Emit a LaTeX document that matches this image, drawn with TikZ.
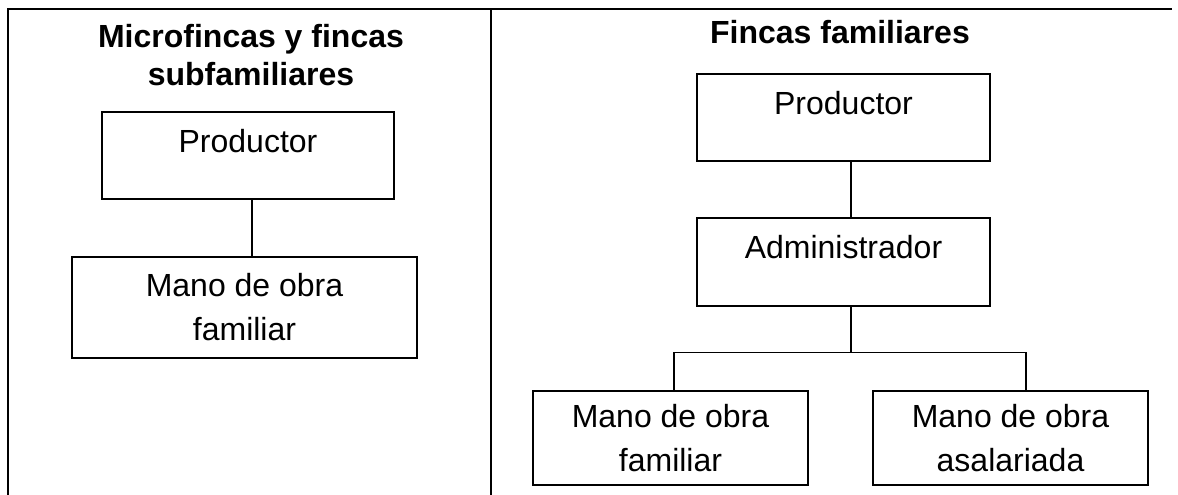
\documentclass[tikz,border=0pt]{standalone}
\usepackage{fontspec}
\setmainfont{Liberation Sans}
\usetikzlibrary{calc}
\begin{document}
\begin{tikzpicture}[x=1bp,y=-1bp,
  box/.style={draw=black,line width=1.4bp,inner sep=0pt,align=center,
    font=\fontsize{32bp}{44bp}\selectfont},
  onebox/.style={box,text height=23bp,text depth=29bp},
  title/.style={font=\fontsize{32bp}{38bp}\selectfont\bfseries,align=center,inner sep=0pt,anchor=base},
  conn/.style={line width=1.2bp},
  frame/.style={line width=2.2bp}]
\useasboundingbox (0,0) rectangle (1178,495);
% table frame
\draw[frame] (8,500) -- (8,9) -- (1172,9);
\draw[frame] (491,9) -- (491,500);
% titles
\node[title] (t1) at (251,86) {Microfincas y fincas\\subfamiliares};
\node[title] (t2) at (840,44) {Fincas familiares};
% left panel
\node[onebox,minimum width=292bp,minimum height=87bp] (lp) at (248,155.5) {Productor};
\node[box,minimum width=345bp,minimum height=101bp] (lm) at (244.5,307.5) {Mano de obra\\familiar};
\draw[conn] ([xshift=4bp]lp.south) -- ([xshift=4bp]lp.south |- lm.north);
% right panel
\node[onebox,minimum width=293bp,minimum height=87bp] (rp) at (843.5,117.5) {Productor};
\node[onebox,minimum width=293bp,minimum height=88bp] (ra) at (843.5,262) {Administrador};
\node[box,minimum width=275bp,minimum height=94bp] (cl) at (670.5,438) {Mano de obra\\familiar};
\node[box,minimum width=275bp,minimum height=94bp] (cr) at (1010.5,438) {Mano de obra\\asalariada};
\draw[conn] ([xshift=7.5bp]rp.south) -- ([xshift=7.5bp]rp.south |- ra.north);
\draw[conn] ([xshift=7.5bp]ra.south) -- ++(0,46) coordinate (j);
\draw[conn] ([xshift=3.5bp]cl.north) |- (j) -| ([xshift=15.5bp]cr.north);
\end{tikzpicture}
\end{document}
